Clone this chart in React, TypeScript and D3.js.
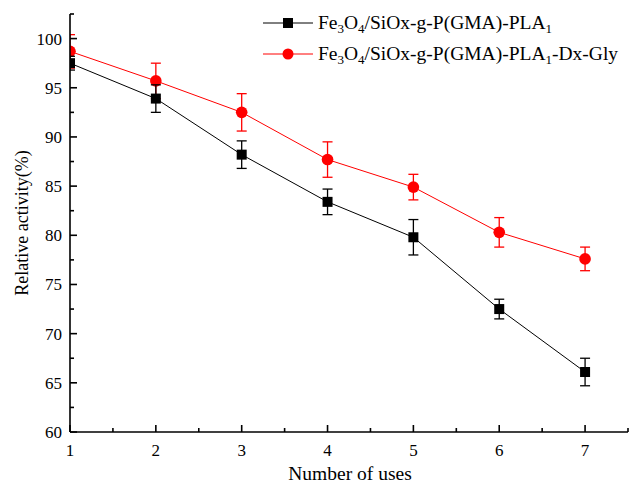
import React from "react";
import * as d3 from "d3";

const uses = [1, 2, 3, 4, 5, 6, 7];
const plaActivity = [97.5, 93.9, 88.2, 83.4, 79.8, 72.5, 66.1];
const plaError = [0.7, 1.4, 1.4, 1.3, 1.8, 1.0, 1.4];
const glyActivity = [98.7, 95.7, 92.5, 87.7, 84.9, 80.3, 77.6];
const glyError = [1.7, 1.8, 1.9, 1.8, 1.3, 1.5, 1.2];
const yTicks = [60, 65, 70, 75, 80, 85, 90, 95, 100];
const xTicks = [1, 2, 3, 4, 5, 6, 7];

const width = 630;
const height = 486;
const margin = { top: 14, right: 2, bottom: 54, left: 70 };
const font = "'Liberation Serif', 'Times New Roman', serif";

export default function App() {
  const x = d3
    .scaleLinear()
    .domain([1, 7.5])
    .range([margin.left, width - margin.right]);
  const y = d3
    .scaleLinear()
    .domain([60, 102.5])
    .range([height - margin.bottom, margin.top]);

  const line = d3
    .line<number>()
    .x((_, i) => x(uses[i]))
    .y((d) => y(d));

  const yMinor = d3.range(62.5, 103, 5);
  const xMinor = d3.range(1.5, 7.6, 1);
  const x0 = x(1);
  const yb = y(60);

  const series = [
    { name: "gly", values: glyActivity, err: glyError, color: "#ff0000", shape: "circle" },
    { name: "pla", values: plaActivity, err: plaError, color: "#000000", shape: "square" },
  ];

  return (
    <div style={{ position: "fixed", left: 0, top: 0 }}>
      <svg width={width} height={height} style={{ display: "block", background: "#fff" }}>
        <defs>
          <clipPath id="plot">
            <rect x={x0} y={0} width={width - x0} height={yb} />
          </clipPath>
        </defs>

        {/* series */}
        <g clipPath="url(#plot)">
          {series.map((s) => (
            <g key={s.name}>
              <path d={line(s.values) || ""} fill="none" stroke={s.color} strokeWidth={1} />
              {s.values.map((v, i) => {
                const cx = x(uses[i]);
                const top = y(v + s.err[i]);
                const bot = y(v - s.err[i]);
                return (
                  <g key={i} stroke={s.color} strokeWidth={1.3}>
                    <line x1={cx} x2={cx} y1={top} y2={bot} />
                    <line x1={cx - 5} x2={cx + 5} y1={top} y2={top} />
                    <line x1={cx - 5} x2={cx + 5} y1={bot} y2={bot} />
                    {s.shape === "circle" ? (
                      <circle cx={cx} cy={y(v)} r={5.8} fill={s.color} stroke="none" />
                    ) : (
                      <rect x={cx - 5} y={y(v) - 5} width={10} height={10} fill={s.color} stroke="none" />
                    )}
                  </g>
                );
              })}
            </g>
          ))}
        </g>

        {/* axes */}
        <g stroke="#000" strokeWidth={1.6}>
          <line x1={x0} x2={x0} y1={y(102.5)} y2={yb} />
          <line x1={x0} x2={x(7.5)} y1={yb} y2={yb} />
          {yTicks.map((t) => (
            <line key={"yt" + t} x1={x0} x2={x0 + 7} y1={y(t)} y2={y(t)} />
          ))}
          {yMinor.map((t) => (
            <line key={"ym" + t} x1={x0} x2={x0 + 4} y1={y(t)} y2={y(t)} />
          ))}
          {xTicks.map((t) => (
            <line key={"xt" + t} x1={x(t)} x2={x(t)} y1={yb} y2={yb - 7} />
          ))}
          {xMinor.map((t) => (
            <line key={"xm" + t} x1={x(t)} x2={x(t)} y1={yb} y2={yb - 4} />
          ))}
        </g>

        <g fontFamily={font} fontSize={17} fill="#000">
          {yTicks.map((t) => (
            <text key={"yl" + t} x={x0 - 8} y={y(t)} dy="0.35em" textAnchor="end">
              {t}
            </text>
          ))}
          {xTicks.map((t) => (
            <text key={"xl" + t} x={x(t)} y={yb + 24} textAnchor="middle">
              {t}
            </text>
          ))}
          <text x={350} y={height - 6} textAnchor="middle" fontSize={19.5}>
            Number of uses
          </text>
          <text
            transform={`translate(28, 223) rotate(-90)`}
            textAnchor="middle"
            fontSize={18}
          >
            Relative activity(%)
          </text>
        </g>

        {/* legend */}
        <g fontFamily={font} fontSize={19.5} fill="#000">
          <line x1={263} x2={313} y1={23} y2={23} stroke="#000" strokeWidth={1} />
          <rect x={283} y={18} width={10} height={10} fill="#000" />
          <text x={318} y={29}>
            Fe<tspan fontSize={13} dy={4}>3</tspan>
            <tspan dy={-4}>O</tspan>
            <tspan fontSize={13} dy={4}>4</tspan>
            <tspan dy={-4}>/SiOx-g-P(GMA)-PLA</tspan>
            <tspan fontSize={13} dy={4}>1</tspan>
          </text>
          <line x1={263} x2={313} y1={54} y2={54} stroke="#ff0000" strokeWidth={1} />
          <circle cx={288} cy={54} r={5.5} fill="#ff0000" />
          <text x={318} y={60}>
            Fe<tspan fontSize={13} dy={4}>3</tspan>
            <tspan dy={-4}>O</tspan>
            <tspan fontSize={13} dy={4}>4</tspan>
            <tspan dy={-4}>/SiOx-g-P(GMA)-PLA</tspan>
            <tspan fontSize={13} dy={4}>1</tspan>
            <tspan dy={-4}>-Dx-Gly</tspan>
          </text>
        </g>
      </svg>
    </div>
  );
}
